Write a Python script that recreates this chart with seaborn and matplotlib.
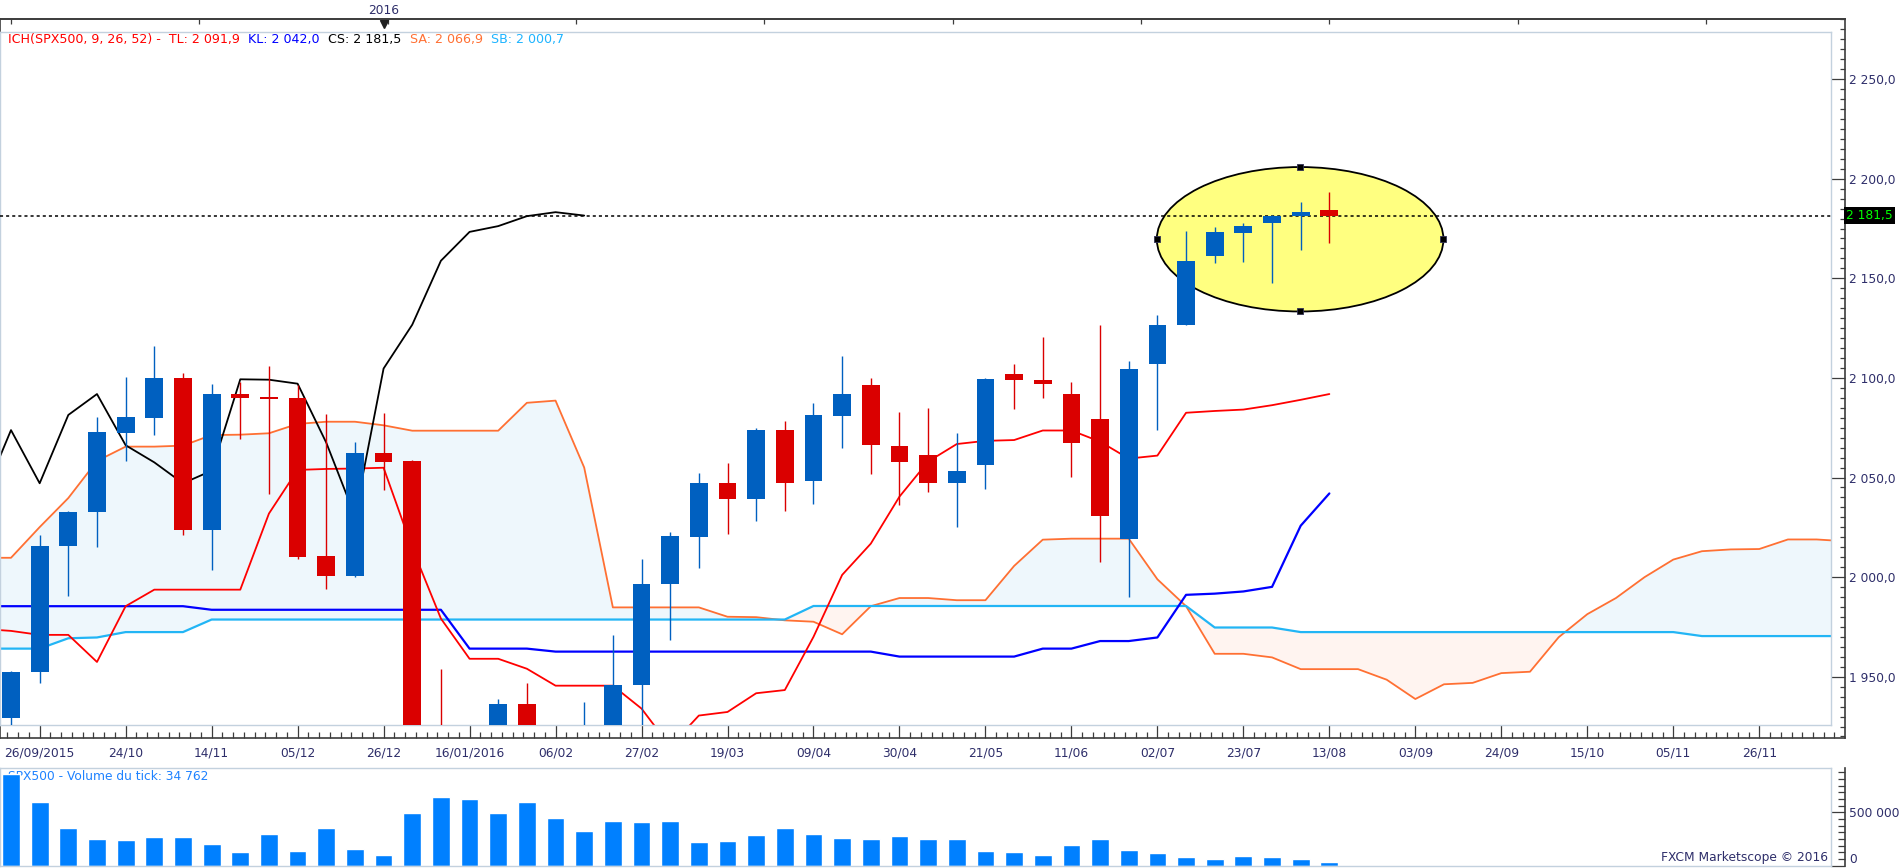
import numpy as np
import seaborn as sns
import matplotlib.pyplot as plt
import matplotlib.transforms as mtrans
from matplotlib.patches import Ellipse
from matplotlib.ticker import FixedLocator, MultipleLocator

sns.set_theme(style='white')
plt.rcParams['font.family'] = ['DejaVu Sans']

# weekly candles SPX500, week 0 = 26/09/2015, last week 46 = 13/08/2016
opens = [1929.4, 1952.5, 2015.7, 2032.5, 2072.4, 2080.1, 2099.8, 2023.6, 2091.9, 2090.4,
         2090.1, 2010.6, 2000.7, 2062.1, 2058.3, 1920.0, 1880.0, 1898.0, 1936.1, 1882.0,
         1866.0, 1918.0, 1945.6, 1996.7, 2020.2, 2047.1, 2039.3, 2073.8, 2048.2, 2080.7,
         2096.4, 2065.7, 2061.2, 2047.1, 2056.5, 2101.8, 2099.1, 2091.9, 2079.6, 2018.9,
         2107.2, 2126.7, 2161.4, 2172.9, 2178.0, 2181.2, 2184.3]
highs = [1953.0, 2021.3, 2033.0, 2080.3, 2100.5, 2115.9, 2102.7, 2096.9, 2098.0, 2105.8,
         2096.4, 2081.9, 2067.7, 2082.5, 2059.0, 1954.0, 1910.0, 1939.0, 1946.7, 1895.0,
         1937.2, 1970.9, 2009.0, 2022.4, 2052.3, 2057.2, 2074.7, 2078.5, 2087.2, 2111.0,
         2099.8, 2082.7, 2084.8, 2072.2, 2099.8, 2107.0, 2120.4, 2098.0, 2126.7, 2108.3,
         2131.6, 2173.8, 2176.0, 2177.8, 2181.8, 2188.3, 2193.3]
lows = [1926.0, 1946.9, 1990.4, 2015.3, 2058.3, 2071.1, 2020.9, 2003.8, 2069.1, 2041.9,
        2009.0, 1994.0, 2000.2, 2043.7, 1900.0, 1860.0, 1815.0, 1870.0, 1872.0, 1812.0,
        1860.0, 1892.0, 1920.0, 1968.6, 2004.5, 2021.8, 2028.0, 2033.2, 2036.6, 2065.0,
        2051.6, 2036.3, 2042.6, 2025.4, 2044.4, 2084.5, 2090.1, 2050.5, 2007.4, 1990.0,
        2073.6, 2126.7, 2157.6, 2158.1, 2147.5, 2164.4, 2167.7]
closes = [1952.5, 2015.7, 2032.5, 2072.9, 2080.3, 2099.8, 2023.6, 2091.9, 2090.1, 2089.2,
          2010.1, 2000.7, 2062.1, 2057.9, 1915.0, 1880.0, 1905.0, 1936.1, 1882.0, 1865.0,
          1918.0, 1945.8, 1996.7, 2020.6, 2047.1, 2039.3, 2073.8, 2047.1, 2081.4, 2091.9,
          2066.2, 2057.6, 2047.1, 2053.4, 2099.3, 2099.1, 2097.1, 2067.5, 2030.7, 2104.7,
          2126.7, 2158.8, 2173.3, 2176.2, 2181.2, 2183.2, 2181.5]
volumes = [860500, 592700, 353000, 249000, 239700, 267800, 267800, 202200, 126400, 296800,
           135800, 353000, 154500, 97400, 495300, 646000, 627300, 495300, 599200, 447600,
           324900, 419500, 410100, 419500, 221000, 230300, 287400, 353000, 296800, 258400,
           249000, 277100, 249000, 249000, 135800, 126400, 97400, 192000, 249000, 145100,
           117000, 78700, 59900, 88000, 78700, 59900, 34762]

# Ichimoku lines, from week -1
tenkan = [1974.0, 1973.0, 1971.0, 1971.0, 1957.4, 1985.4, 1993.7, 1993.7, 1993.7, 1993.7,
          2031.9, 2053.8, 2054.3, 2054.5, 2054.9, 2014.6, 1979.2, 1959.0, 1959.0, 1954.0,
          1945.5, 1945.5, 1945.5, 1934.0, 1915.0, 1930.5, 1932.3, 1941.7, 1943.3, 1970.0,
          2001.1, 2016.8, 2040.4, 2058.0, 2066.8, 2068.4, 2068.8, 2073.6, 2073.6, 2068.0,
          2059.5, 2061.0, 2082.5, 2083.4, 2084.1, 2086.3, 2089.0, 2091.9]
kijun = [1985.4] * 8 + [1983.6] * 9 + [1964.1] * 3 + [1962.6] * 12 + [1960.1] * 5 + \
        [1964.1, 1964.1, 1967.9, 1967.9, 1969.7, 1991.1, 1991.7, 1992.8, 1995.1, 2025.8, 2042.0]
# senkou spans, week -1 to 64 (shifted 26 weeks forward)
senkou_a = [2009.7, 2009.7, 2025.1, 2039.7, 2058.3, 2065.5, 2065.5, 2066.0, 2071.3, 2071.5,
            2072.2, 2076.9, 2078.0, 2078.0, 2076.2, 2073.5, 2073.5, 2073.5, 2073.5, 2087.5,
            2088.6, 2055.0, 1984.8, 1984.8, 1984.8, 1984.8, 1980.1, 1979.9, 1978.3, 1977.6,
            1971.3, 1985.4, 1989.5, 1989.5, 1988.4, 1988.4, 2005.6, 2018.8, 2019.3, 2019.3,
            2019.3, 1998.9, 1985.4, 1961.5, 1961.5, 1959.7, 1953.8, 1953.8, 1953.8, 1948.5,
            1938.8, 1946.2, 1946.9, 1951.8, 1952.5, 1969.8, 1981.4, 1989.5, 2000.0, 2008.8,
            2013.0, 2013.9, 2014.1, 2018.9, 2018.9, 2018.0]
senkou_b = [1964.1] * 3 + [1969.3, 1969.7] + [1972.4] * 3 + [1978.7] * 21 + [1985.5] * 14 + \
           [1974.7] * 3 + [1972.4] * 14 + [1970.4] * 6

date_labels = ['26/09/2015', '24/10', '14/11', '05/12', '26/12', '16/01/2016', '06/02',
               '27/02', '19/03', '09/04', '30/04', '21/05', '11/06', '02/07', '23/07',
               '13/08', '03/09', '24/09', '15/10', '05/11', '26/11']
legend_parts = [('ICH(SPX500, 9, 26, 52) -  TL: 2 091,9', '#FF0000'),
                ('KL: 2 042,0', '#0000FF'),
                ('CS: 2 181,5', '#000000'),
                ('SA: 2 066,9', '#FF7033'),
                ('SB: 2 000,7', '#1EB4FF')]
last_price = 2181.5

weeks = np.arange(len(closes))
line_weeks = np.arange(-1, len(tenkan) - 1)
span_weeks = np.arange(-1, len(senkou_a) - 1)

W, H = 1903, 868
fig = plt.figure(figsize=(W / 100, H / 100), dpi=100)


def box(x0, y0, x1, y1):
    return [x0 / W, 1 - y1 / H, (x1 - x0) / W, (y1 - y0) / H]


def wk(px):
    return (px - 11.0) / 28.66


def price(py):
    return 2250 - (py - 79.1) * 0.502


def vol(py):
    return (865.7 - py) * 9363


dark = '#3C3C3C'
light = '#C3D1DE'
navy = '#2E2E6A'
fs = 8.8

# frames with the scales
axf = fig.add_axes(box(0, 19, 1845, 738), zorder=0)
ax = fig.add_axes(box(0, 32, 1830.7, 725), zorder=1)
axvf = fig.add_axes(box(0, 767.7, 1845, 866), zorder=0)
axv = fig.add_axes(box(0, 767.7, 1830.7, 866), zorder=1)

axf.set_xlim(wk(0), wk(1845))
axf.set_ylim(price(738), price(19))
for s in axf.spines.values():
    s.set_color(dark)
    s.set_linewidth(1.2)
major_x = [1 + 3 * k for k in range(len(date_labels))]
minor_x = [1 + k * 0.375 for k in range(-3, 168) if k % 8 != 0]
axf.xaxis.set_major_locator(FixedLocator(major_x))
axf.xaxis.set_minor_locator(FixedLocator(minor_x))
axf.set_xticklabels(date_labels)
axf.tick_params(axis='x', which='both', direction='in', bottom=True, top=False,
                color=dark, width=0.9, labelcolor=navy, labelsize=fs, pad=6)
axf.tick_params(axis='x', which='major', length=9.4)
axf.tick_params(axis='x', which='minor', length=4.3)

price_ticks = [1950, 2000, 2050, 2100, 2150, 2200, 2250]
axf.yaxis.tick_right()
axf.yaxis.set_major_locator(FixedLocator(price_ticks))
axf.yaxis.set_minor_locator(MultipleLocator(5))
axf.set_yticklabels([f'{v:,.1f}'.replace(',', ' ').replace('.', ',') for v in price_ticks])
axf.tick_params(axis='y', which='both', direction='in', left=False, right=True,
                color=dark, width=0.9, labelcolor=navy, labelsize=fs, pad=3)
axf.tick_params(axis='y', which='major', length=10)
axf.tick_params(axis='y', which='minor', length=3.4)

top = axf.secondary_xaxis('top')
top.set_xticks([k * 46 / 7 for k in range(10)], labels=[])
top.tick_params(direction='in', length=3.6, width=0.9, color=dark)
top.spines['top'].set_color(dark)

bt = mtrans.blended_transform_factory(axf.transData, axf.transAxes)
axf.text(13.0, 1.0125, '2016', transform=bt, ha='center', va='center',
         fontsize=fs, color=navy, clip_on=False)
axf.plot([13.0], [0.9935], transform=bt, marker='v', ms=6, color='#202020',
         clip_on=False)

# price tag
bt2 = mtrans.blended_transform_factory(axf.transAxes, axf.transData)
axf.text(1.0008, last_price, '2 181,5', transform=bt2, ha='left', va='center',
         fontsize=fs, color='#00FF00', clip_on=False,
         bbox=dict(boxstyle='square,pad=0.18', fc='black', ec='none'))

# main panel
ax.set_facecolor('white')
for s in ax.spines.values():
    s.set_color(light)
    s.set_linewidth(1.0)

bull = np.array(closes) >= np.array(opens)
span_a = np.array(senkou_a)
span_b = np.array(senkou_b)
ax.fill_between(span_weeks, span_a, span_b, where=span_a >= span_b, interpolate=True,
                color='#EEF7FC', lw=0, zorder=1)
ax.fill_between(span_weeks, span_a, span_b, where=span_a < span_b, interpolate=True,
                color='#FFF4F0', lw=0, zorder=1)

sns.lineplot(x=span_weeks, y=span_a, ax=ax, color='#FF7033', linewidth=1.3, zorder=2)
sns.lineplot(x=span_weeks, y=span_b, ax=ax, color='#22B5F5', linewidth=1.6, zorder=2)
sns.lineplot(x=line_weeks, y=kijun, ax=ax, color='#0000FF', linewidth=1.6, zorder=2)
sns.lineplot(x=line_weeks, y=tenkan, ax=ax, color='#FF0000', linewidth=1.3, zorder=2)
# chikou span: closes shifted 26 weeks back
sns.lineplot(x=weeks[25:] - 26, y=closes[25:], ax=ax, color='black', linewidth=1.3, zorder=2)

ell = Ellipse((44.98, 2169.6), 10.0, 72.5, fc='#FFFF80', ec='black', lw=1.3, zorder=3)
ax.add_patch(ell)
ax.scatter([39.98, 49.98, 44.98, 44.98], [2169.6, 2169.6, 2205.9, 2133.4], marker='s',
           s=22, c='black', edgecolors='#333355', linewidths=0.6, zorder=6)

ax.axhline(last_price, color='black', lw=1.1, ls=(0, (2, 2)), zorder=4)

cols = np.where(bull, '#0060C0', '#DA0000')
body_lo = np.minimum(opens, closes)
body_h = np.maximum(np.abs(np.array(closes) - np.array(opens)), 0.7)
ax.vlines(weeks, lows, highs, colors=cols, lw=1.0, zorder=5)
ax.bar(weeks, body_h, bottom=body_lo, width=0.62, color=cols, lw=0, zorder=5)

ax.set_xlim(wk(0), wk(1830.7))
ax.set_ylim(price(725), price(32))
ax.set_xticks([])
ax.set_yticks([])
ax.set_xlabel('')
ax.set_ylabel('')

# legend line of the indicator
lfs = 9.1
t = ax.text(8 / 1830.7, 1 - 8 / 693, legend_parts[0][0], transform=ax.transAxes,
            ha='left', va='center', fontsize=lfs, color=legend_parts[0][1])
for txt, c in legend_parts[1:]:
    t = ax.annotate(txt, xy=(1, 0.5), xycoords=t, xytext=(6, 0),
                    textcoords='offset points', ha='left', va='center',
                    fontsize=lfs, color=c)

# volume panel
axvf.set_xlim(wk(0), wk(1845))
axvf.set_ylim(vol(866), vol(767.7))
for k, s in axvf.spines.items():
    s.set_visible(k == 'right')
    s.set_color(dark)
    s.set_linewidth(1.2)
axvf.set_xticks([])
axvf.yaxis.tick_right()
axvf.yaxis.set_major_locator(FixedLocator([0, 500000]))
axvf.yaxis.set_minor_locator(MultipleLocator(62500))
axvf.set_yticklabels(['', '500 000'])
axvf.tick_params(axis='y', which='both', direction='in', left=False, right=True,
                 color=dark, width=0.9, labelcolor=navy, labelsize=fs, pad=3)
axvf.tick_params(axis='y', which='major', length=10)
axvf.tick_params(axis='y', which='minor', length=4.8)
# zero label sits at the very bottom edge
axvf.text(1.0 + 4 / 1845, 0.0, '0', transform=axvf.transAxes, ha='left', va='bottom',
          fontsize=fs, color=navy, clip_on=False)

sns.barplot(x=weeks, y=volumes, ax=axv, native_scale=True, orient='x', width=0.62,
            color='#0080FF', saturation=1, errorbar=None, zorder=2)
axv.set_facecolor('white')
for s in axv.spines.values():
    s.set_color(light)
    s.set_linewidth(1.0)
axv.set_xlim(wk(0), wk(1830.7))
axv.set_ylim(vol(866), vol(767.7))
axv.set_xticks(major_x)
axv.set_yticks([])
axv.tick_params(axis='x', direction='in', length=2.5, color=light, labelbottom=False)
axv.set_xlabel('')
axv.set_ylabel('')
axv.text(8 / 1830.7, (866 - 776) / 98.3, 'SPX500 - Volume du tick: 34 762',
         transform=axv.transAxes, ha='left', va='center', fontsize=fs,
         color='#1E82FF', zorder=0.5)
axv.text(1828 / 1830.7, 0.02, 'FXCM Marketscope © 2016', transform=axv.transAxes,
         ha='right', va='bottom', fontsize=fs, color=navy)

fig.savefig('out.png', dpi=100)
